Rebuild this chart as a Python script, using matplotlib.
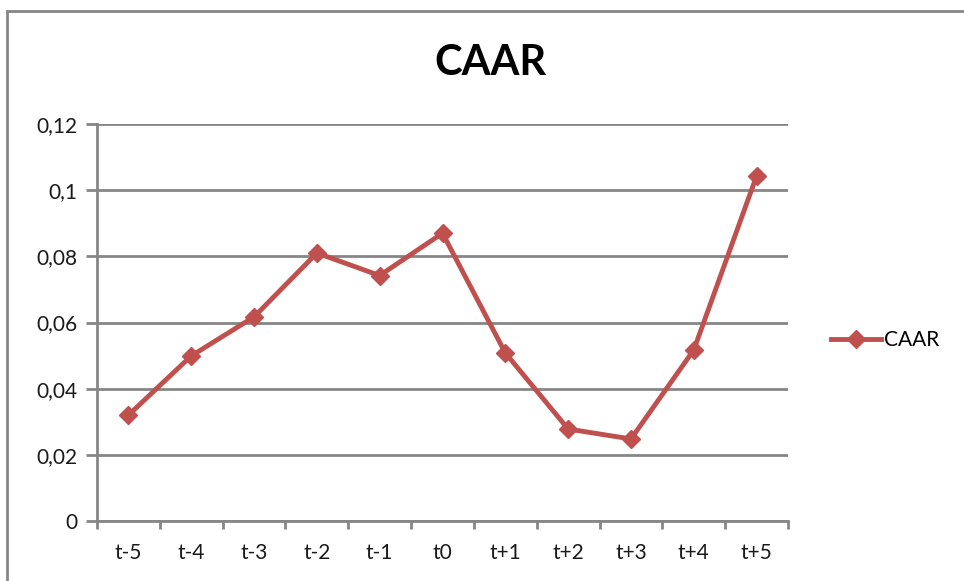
import numpy as np
import matplotlib.pyplot as plt
from matplotlib.patches import Rectangle

# data
periods = ['t-5', 't-4', 't-3', 't-2', 't-1', 't0', 't+1', 't+2', 't+3', 't+4', 't+5']
caar = [0.032, 0.0499, 0.0617, 0.081, 0.0742, 0.087, 0.0508, 0.0278, 0.0248, 0.0517, 0.1043]
yticks = [0, 0.02, 0.04, 0.06, 0.08, 0.1, 0.12]
ytick_labels = ['0', '0,02', '0,04', '0,06', '0,08', '0,1', '0,12']

plt.rcParams['font.family'] = ['Lato', 'DejaVu Sans']
grey = '#868686'
red = '#C0504D'

fig = plt.figure(figsize=(9.64, 5.81), dpi=100)
ax = fig.add_axes([97/964, 60/581, (788-97)/964, (521-124)/581])

x = np.arange(len(periods))
ax.plot(x, caar, color=red, lw=3.5, marker='D', markersize=9, label='CAAR')

ax.set_xlim(-0.5, len(periods) - 0.5)
ax.set_ylim(0, 0.12)
ax.set_yticks(yticks)
ax.set_yticklabels(ytick_labels)
ax.set_xticks(x)
ax.set_xticklabels(periods)
ax.set_xticks(np.arange(-0.5, len(periods)), minor=True)
ax.tick_params(axis='x', which='major', length=0, pad=16, labelsize=15, colors='#1a1a1a')
ax.tick_params(axis='x', which='minor', length=6, width=2, color=grey)
ax.tick_params(axis='y', length=8, width=2, color=grey, labelsize=15, labelcolor='#1a1a1a', pad=6)

ax.yaxis.grid(True, color=grey, lw=2)
ax.set_axisbelow(True)
for s in ['top', 'right']:
    ax.spines[s].set_visible(False)
for s in ['left', 'bottom']:
    ax.spines[s].set_color(grey)
    ax.spines[s].set_linewidth(2)

fig.text(490/964, 1 - 63/581, 'CAAR', ha='center', va='center', fontsize=30, fontweight='bold')

fig.legend(loc='center left', bbox_to_anchor=(812/964, 1 - 340/581), frameon=False,
           fontsize=15, handlelength=2.4, handletextpad=0.15)

# chart-area border (right and bottom edges are outside the picture)
fig.patches.append(Rectangle((7/964, -0.1), 1.2, 1 - 11/581 + 0.1, transform=fig.transFigure,
                             fill=False, edgecolor=grey, lw=2))

fig.savefig('out.png', dpi=100)
